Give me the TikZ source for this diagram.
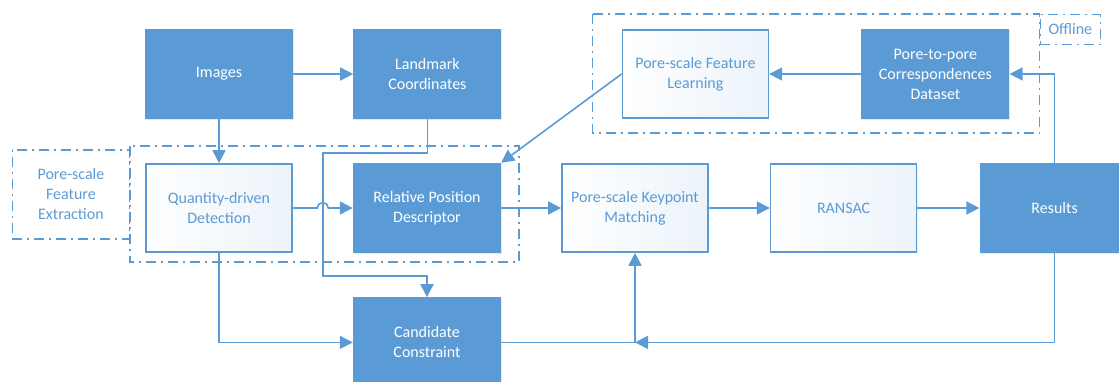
\documentclass[tikz,border=0pt]{standalone}
\usepackage{fontspec}
\setmainfont{Carlito}
\usepackage{xcolor}
\usepackage{tikz}
\usetikzlibrary{positioning, fit, shadows, calc, arrows.meta, shapes}
\definecolor{boxblue}{HTML}{5B9BD5}

\begin{document}
\begin{tikzpicture}[node distance=60pt, font=\fontsize{16}{20}\selectfont]
	\tikzset{arrow/.style={-{Triangle[length=13pt, width=13pt]}, boxblue, line width=1.6pt}}
	\tikzset{FilledBox/.style={rectangle, fill=boxblue, text=white, minimum width=148pt, minimum height=90pt, align=center, drop shadow={opacity=0.18, shadow xshift=1pt, shadow yshift=-1.5pt}}}
	\tikzset{PlainBox/.style={rectangle, draw=boxblue, line width=1.6pt, left color=white, right color=boxblue!12, text=boxblue, minimum width=146pt, minimum height=88pt, align=center, drop shadow={opacity=0.12, shadow xshift=1pt, shadow yshift=-1.5pt}}}
	\tikzset{Region/.style={draw=boxblue, line width=1.5pt, dash pattern=on 10pt off 5pt on 2pt off 5pt}}

	\useasboundingbox (-219pt,-308pt) rectangle (900pt,74pt);

	% Top row
	\node (images) [FilledBox] at (0,0) {Images};
	\node (landmark) [FilledBox, right=60pt of images] {Landmark\\Coordinates};
	\node (learning) [PlainBox, right=120pt of landmark] {Pore-scale Feature\\Learning};
	\node (dataset) [FilledBox, right=92pt of learning] {Pore-to-pore\\Correspondences\\Dataset};

	% Middle row
	\node (detect) [PlainBox, below=44pt of images] {Quantity-driven\\Detection};
	\node (descriptor) [FilledBox, right=60pt of detect] {Relative Position\\Descriptor};
	\node (matching) [PlainBox, right=60pt of descriptor] {Pore-scale Keypoint\\Matching};
	\node (ransac) [PlainBox, right=61pt of matching] {RANSAC};
	\node (results) [FilledBox, minimum width=150pt, right=62pt of ransac] {Results};

	% Bottom row
	\node (candidate) [FilledBox, below=44pt of descriptor] {Candidate\\Constraint};

	% Regions
	\draw [Region] ($(detect.north west)+(-15pt,17pt)$) rectangle ($(descriptor.south east)+(18pt,-9pt)$);
	\node (extract) [Region, minimum width=117pt, minimum height=89pt, align=center, text=boxblue, anchor=north east] at ($(detect.north west)+(-15pt,14pt)$) {Pore-scale\\Feature\\Extraction};
	\draw [Region] ($(learning.north west)+(-29pt,15pt)$) rectangle ($(dataset.south east)+(30pt,-14pt)$);
	\node (offline) [Region, minimum width=60pt, minimum height=30pt, text=boxblue, anchor=north west] at ($(dataset.north east)+(30pt,15pt)$) {Offline};

	% Connections
	\coordinate (hop) at ($(detect.east)!0.5!(descriptor.west)$);
	\draw [arrow] (images) -- (landmark);
	\draw [arrow] (images) -- (detect);
	\draw [arrow] (dataset) -- (learning);
	\draw [arrow] (learning.west) -- (descriptor.north east);
	\draw [arrow] (landmark.south) |- ([yshift=55pt]hop) -- ([yshift=-68pt]hop) -| (candidate.north);
	\draw [arrow] (detect) -- ([xshift=-5.5pt]hop) arc[radius=5.5pt, start angle=180, end angle=0] -- (descriptor);
	\draw [arrow] (descriptor) -- (matching);
	\draw [arrow] (matching) -- (ransac);
	\draw [arrow] (ransac) -- (results);
	\draw [arrow] (results.north) |- (dataset.east);

	% Feedback to matching
	\coordinate (join) at (matching.south |- candidate.east);
	\draw [arrow] (results.south) |- (join);
	\draw [arrow] (candidate.east) -| (matching.south);
	\draw [arrow] (detect.south) |- (candidate.west);

\end{tikzpicture}
\end{document}
